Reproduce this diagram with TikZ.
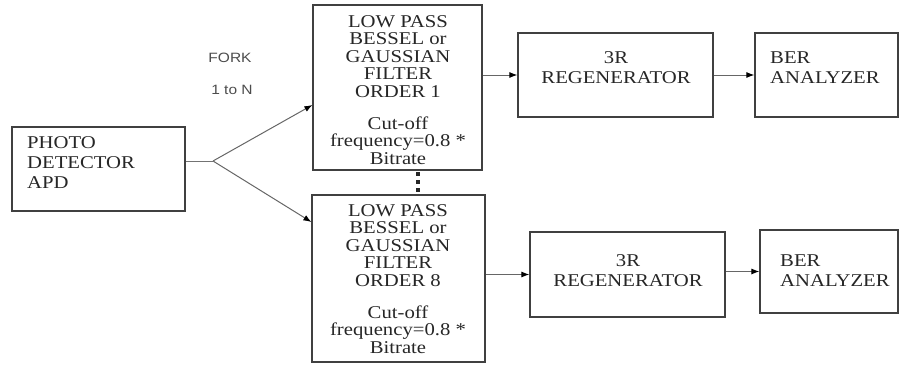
\documentclass[tikz,border=0pt]{standalone}
\usepackage{fontspec}
\setmainfont{Liberation Serif}[FakeStretch=1.15]
\newfontfamily\forkfont{Liberation Sans}[FakeStretch=1.15]
\usetikzlibrary{arrows.meta}
\begin{document}
\begin{tikzpicture}[x=1pt,y=-1pt,
  blk/.style={draw=black!75, line width=1.2pt, rectangle, inner sep=0pt},
  txt/.style={inner sep=0pt, text=black!85, font=\fontsize{18}{20}\selectfont},
  ftxt/.style={inner sep=0pt, text=black!85, align=center, font=\fontsize{18}{17.5}\selectfont},
  lbl/.style={inner sep=0pt, text=black!70, font=\forkfont\fontsize{13.5}{15}\selectfont},
  ln/.style={draw=black!55, line width=1pt},
  arr/.style={draw=black!60, line width=1pt, -{Latex[length=8pt,width=6pt,black]}}]
\useasboundingbox (0,0) rectangle (899,364);
% boxes
\node[blk, minimum width=173pt, minimum height=84pt] (pd) at (98.5,169) {};
\node[blk, minimum width=169pt, minimum height=165pt] (f1) at (397.5,87.5) {};
\node[blk, minimum width=173pt, minimum height=167pt] (f2) at (398.5,278.5) {};
\node[blk, minimum width=195pt, minimum height=84pt] (r1) at (615.5,75) {};
\node[blk, minimum width=143pt, minimum height=84pt] (b1) at (826.5,75) {};
\node[blk, minimum width=195pt, minimum height=85pt] (r2) at (627.5,274.5) {};
\node[blk, minimum width=138pt, minimum height=83pt] (b2) at (829,271.5) {};
% texts
\node[txt, anchor=west, align=left] (pdt) at (27,163) {PHOTO\\DETECTOR\\APD};
\node[ftxt] (f1t) at (398,90) {LOW PASS\\BESSEL or\\GAUSSIAN\\FILTER\\ORDER 1\\[14.5pt]Cut-off\\frequency=0.8 *\\Bitrate};
\node[ftxt] (f2t) at (398,279) {LOW PASS\\BESSEL or\\GAUSSIAN\\FILTER\\ORDER 8\\[14.5pt]Cut-off\\frequency=0.8 *\\Bitrate};
\node[txt, align=center] (r1t) at (616,68) {3R\\REGENERATOR};
\node[txt, align=center] (r2t) at (628,271) {3R\\REGENERATOR};
\node[txt, anchor=west, align=left] (b1t) at (770,68) {BER\\ANALYZER};
\node[txt, anchor=west, align=left] (b2t) at (780,271) {BER\\ANALYZER};
\node[lbl] (fork1) at (230,58) {FORK};
\node[lbl] (fork2) at (232,90) {1 to N};
% dots between filters
\fill[black!85] (416,172) rectangle (420,176);
\fill[black!85] (416,180) rectangle (420,184);
\fill[black!85] (416,188) rectangle (420,192);
% connectors
\coordinate (fk) at (213,161);
\coordinate (in1) at (313,105);
\coordinate (in2) at (312,222);
\draw[ln] (pd.east |- fk) -- (fk);
\draw[arr] (fk) -- (f1.west |- in1);
\draw[arr] (fk) -- (f2.west |- in2);
\draw[arr] (f1.east |- r1) -- (r1.west);
\draw[arr] (r1.east) -- (b1.west);
\draw[arr] (f2.east |- r2) -- (r2.west);
\draw[arr] (r2.east |- b2) -- (b2.west);
\end{tikzpicture}
\end{document}
